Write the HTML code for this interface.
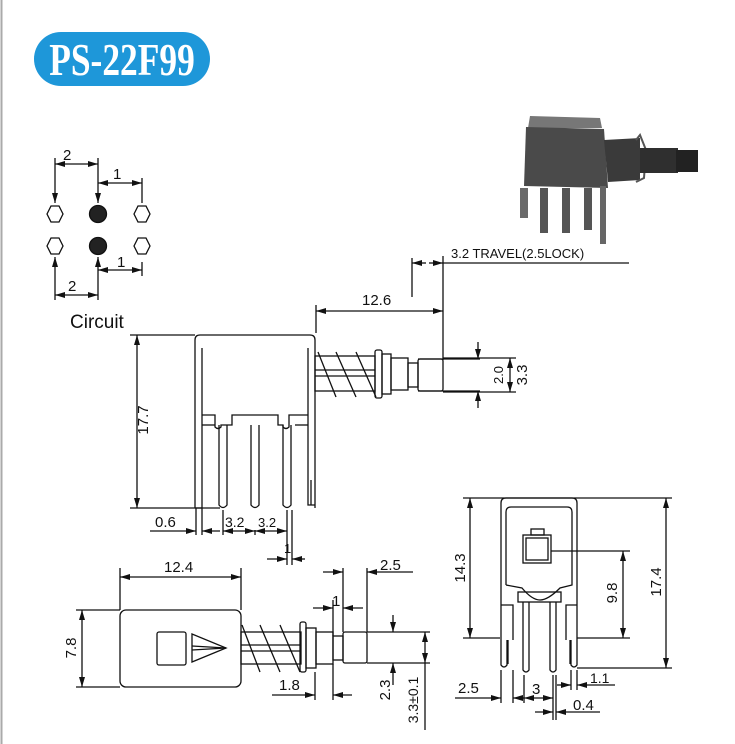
<!DOCTYPE html>
<html><head><meta charset="utf-8"><style>
html,body{margin:0;padding:0;background:#fff;}
svg{display:block;}
text{font-family:"Liberation Sans",sans-serif;fill:#111;}
</style></head><body>
<svg width="735" height="744" viewBox="0 0 735 744" xmlns="http://www.w3.org/2000/svg">
<defs>
<marker id="a" viewBox="0 0 10 6" refX="10" refY="3" markerWidth="10" markerHeight="6" orient="auto-start-reverse" markerUnits="userSpaceOnUse"><path d="M0,0L10,3L0,6z" fill="#111"/></marker>
</defs>
<line x1="1.5" y1="0" x2="1.5" y2="744" stroke="#aaa" stroke-width="2"/>
<rect x="34" y="32" width="176" height="54" rx="27" fill="#1e97d9"/>
<text transform="translate(122,75) scale(0.77,1)" text-anchor="middle" style="font-family:'Liberation Serif',serif;font-weight:bold;font-size:46px;fill:#fff">PS-22F99</text>

<g stroke="#111" stroke-width="1.3" fill="none">
<polygon points="47,214 51,206 59,206 63,214 59,222 51,222"/>
<polygon points="134,214 138,206 146,206 150,214 146,222 138,222"/>
<polygon points="47,246 51,238 59,238 63,246 59,254 51,254"/>
<polygon points="134,246 138,238 146,238 150,246 146,254 138,254"/>
<circle cx="98" cy="214" r="8.5" fill="#222"/>
<circle cx="98" cy="246" r="8.5" fill="#222"/>
<line x1="55" y1="158" x2="55" y2="203" marker-end="url(#a)"/>
<line x1="98" y1="158" x2="98" y2="203" marker-end="url(#a)"/>
<line x1="55" y1="164" x2="98" y2="164" marker-start="url(#a)" marker-end="url(#a)"/>
<line x1="142" y1="178" x2="142" y2="203"/>
<line x1="98" y1="183" x2="142" y2="183" marker-start="url(#a)" marker-end="url(#a)"/>
<line x1="55" y1="300" x2="55" y2="257" marker-end="url(#a)"/>
<line x1="98" y1="300" x2="98" y2="257" marker-end="url(#a)"/>
<line x1="55" y1="295" x2="98" y2="295" marker-start="url(#a)" marker-end="url(#a)"/>
<line x1="142" y1="276" x2="142" y2="262"/>
<line x1="98" y1="270" x2="142" y2="270" marker-start="url(#a)" marker-end="url(#a)"/>

<path d="M195,508 V340 Q195,335 200,335 H310 Q315,335 315,340 V508"/>
<path d="M195,508 H202 V348"/>
<path d="M315,505 H308 V348"/>
<line x1="311" y1="480" x2="311" y2="505"/>
<path d="M202,415 H215 V427 Q218,430 221,427 V425 H232 V415 H278 V425 H283 V427 Q286,430 289,427 V415 H308"/>
<line x1="202" y1="425" x2="215" y2="425"/><line x1="295" y1="425" x2="308" y2="425"/>
<path d="M219,425 V505 Q223,510 227,505 V425"/>
<path d="M251,425 V505 Q255,510 259,505 V425"/>
<path d="M283,425 V505 Q287,510 291,505 V425"/>
<rect x="315" y="356" width="60" height="35"/>
<line x1="315" y1="370" x2="375" y2="370"/><line x1="315" y1="376" x2="375" y2="376"/>
<path d="M318,352 L336,397 M336,352 L356,397 M356,352 L376,397"/>
<rect x="375" y="350" width="7" height="48" rx="2"/>
<rect x="382" y="354" width="9" height="40"/>
<rect x="391" y="358" width="17" height="32"/>
<rect x="408" y="363" width="10" height="24"/>
<rect x="418" y="359" width="25" height="32" rx="2"/>
<line x1="418" y1="359" x2="480" y2="359"/><line x1="418" y1="391" x2="480" y2="391"/>
<line x1="443" y1="358" x2="516" y2="358"/><line x1="443" y1="392" x2="516" y2="392"/>
<line x1="478" y1="342" x2="478" y2="359" marker-end="url(#a)"/>
<line x1="478" y1="408" x2="478" y2="391" marker-end="url(#a)"/>
<line x1="510" y1="358" x2="510" y2="392" marker-start="url(#a)" marker-end="url(#a)"/>
<line x1="130" y1="335" x2="195" y2="335"/><line x1="130" y1="508" x2="220" y2="508"/>
<line x1="137" y1="335" x2="137" y2="508" marker-start="url(#a)" marker-end="url(#a)"/>
<line x1="316" y1="305" x2="316" y2="333"/>
<line x1="443" y1="256" x2="443" y2="360"/>
<line x1="316" y1="311" x2="443" y2="311" marker-start="url(#a)" marker-end="url(#a)"/>
<line x1="412" y1="258" x2="412" y2="297"/>
<line x1="412" y1="263" x2="426" y2="263" marker-start="url(#a)"/>
<line x1="429" y1="263" x2="443" y2="263" marker-end="url(#a)"/>
<line x1="443" y1="263" x2="629" y2="263"/>
<line x1="196" y1="508" x2="196" y2="535"/><line x1="202" y1="508" x2="202" y2="535"/>
<line x1="150" y1="531" x2="196" y2="531" marker-end="url(#a)"/>
<line x1="220" y1="531" x2="202" y2="531" marker-end="url(#a)"/>
<line x1="223" y1="510" x2="223" y2="535"/><line x1="255" y1="530" x2="255" y2="535"/><line x1="287" y1="510" x2="287" y2="565"/><line x1="292" y1="510" x2="292" y2="565"/>
<line x1="223" y1="531" x2="255" y2="531" marker-start="url(#a)" marker-end="url(#a)"/>
<line x1="255" y1="531" x2="287" y2="531" marker-start="url(#a)" marker-end="url(#a)"/>
<line x1="267" y1="559" x2="287" y2="559" marker-end="url(#a)"/>
<line x1="305" y1="559" x2="292" y2="559" marker-end="url(#a)"/>

<rect x="120" y="610" width="121" height="77" rx="6"/>
<rect x="157" y="632" width="29" height="33" rx="2"/>
<path d="M192,634 L226,648 L192,662 Z"/><line x1="192" y1="646" x2="226" y2="648"/><line x1="192" y1="650" x2="226" y2="648"/>
<rect x="241" y="632" width="60" height="32"/>
<line x1="241" y1="645" x2="300" y2="645"/><line x1="241" y1="651" x2="300" y2="651"/>
<path d="M242,625 L260,672 M260,625 L280,672 M280,625 L300,672"/>
<rect x="300" y="622" width="6" height="50" rx="2"/>
<rect x="306" y="628" width="10" height="40"/>
<rect x="316" y="632" width="17" height="32"/>
<rect x="333" y="636" width="10" height="24"/>
<rect x="343" y="632" width="24" height="31" rx="2"/>
<line x1="367" y1="632" x2="430" y2="632"/><line x1="367" y1="663" x2="430" y2="663"/>
<line x1="120" y1="568" x2="120" y2="610"/><line x1="241" y1="568" x2="241" y2="610"/>
<line x1="120" y1="577" x2="241" y2="577" marker-start="url(#a)" marker-end="url(#a)"/>
<line x1="76" y1="610" x2="120" y2="610"/><line x1="76" y1="687" x2="120" y2="687"/>
<line x1="82" y1="610" x2="82" y2="687" marker-start="url(#a)" marker-end="url(#a)"/>
<line x1="343" y1="568" x2="343" y2="632"/><line x1="367" y1="568" x2="367" y2="632"/>
<line x1="323" y1="572" x2="343" y2="572" marker-end="url(#a)"/>
<line x1="413" y1="572" x2="367" y2="572" marker-end="url(#a)"/>
<line x1="333" y1="600" x2="333" y2="636"/>
<line x1="313" y1="608" x2="333" y2="608" marker-end="url(#a)"/>
<line x1="363" y1="608" x2="343" y2="608" marker-end="url(#a)"/>
<line x1="315" y1="672" x2="315" y2="700"/><line x1="333" y1="664" x2="333" y2="700"/>
<line x1="272" y1="695" x2="315" y2="695" marker-end="url(#a)"/>
<line x1="352" y1="695" x2="333" y2="695" marker-end="url(#a)"/>
<line x1="393" y1="615" x2="393" y2="632" marker-end="url(#a)"/>
<line x1="393" y1="685" x2="393" y2="663" marker-end="url(#a)"/>
<line x1="425" y1="632" x2="425" y2="663" marker-start="url(#a)" marker-end="url(#a)"/>
<line x1="425" y1="663" x2="425" y2="730"/>

<path d="M501,640 V503 Q501,498 506,498 H572 Q577,498 577,503 V640"/>
<path d="M506,585 V512 Q506,507 511,507 H567 Q572,507 572,512 V585 L560,588 Q548,600 540,600 Q532,600 522,588 L506,585"/>
<rect x="523" y="535" width="28" height="28"/><rect x="526" y="538" width="22" height="22"/>
<rect x="531" y="529" width="13" height="6"/>
<rect x="518" y="592" width="43" height="10"/>
<path d="M501,605 H513 V640"/><path d="M577,605 H566 V640"/>
<path d="M501,640 V665 Q504,669 507,665 V640"/><path d="M571,640 V665 Q574,669 577,665 V640"/>
<path d="M523,602 V670 Q526,674 529,670 V602"/><path d="M550,602 V670 Q553,674 556,670 V602"/>
<line x1="508" y1="640" x2="508" y2="664"/><line x1="570" y1="640" x2="570" y2="664"/>
<line x1="463" y1="498" x2="672" y2="498"/>
<line x1="463" y1="638" x2="500" y2="638"/><line x1="577" y1="638" x2="630" y2="638"/>
<line x1="470" y1="498" x2="470" y2="638" marker-start="url(#a)" marker-end="url(#a)"/>
<line x1="551" y1="551" x2="630" y2="551"/>
<line x1="623" y1="551" x2="623" y2="638" marker-start="url(#a)" marker-end="url(#a)"/>
<line x1="577" y1="668" x2="672" y2="668"/>
<line x1="666" y1="498" x2="666" y2="668" marker-start="url(#a)" marker-end="url(#a)"/>
<line x1="501" y1="670" x2="501" y2="703"/><line x1="513" y1="670" x2="513" y2="703"/>
<line x1="524" y1="675" x2="524" y2="703"/><line x1="553" y1="675" x2="553" y2="720"/><line x1="556" y1="675" x2="556" y2="720"/>
<line x1="571" y1="670" x2="571" y2="690"/><line x1="577" y1="670" x2="577" y2="690"/>
<line x1="455" y1="698" x2="501" y2="698" marker-end="url(#a)"/>
<line x1="513" y1="698" x2="524" y2="698" marker-start="url(#a)"/>
<line x1="524" y1="698" x2="553" y2="698" marker-start="url(#a)" marker-end="url(#a)"/>
<line x1="557" y1="685" x2="571" y2="685" marker-end="url(#a)"/>
<line x1="615" y1="685" x2="577" y2="685" marker-end="url(#a)"/>
<line x1="535" y1="712" x2="553" y2="712" marker-end="url(#a)"/>
<line x1="600" y1="712" x2="556" y2="712" marker-end="url(#a)"/>
</g>

<g>
<path d="M530,116 L600,118 L602,128 L528,128 Z" fill="#777"/>
<path d="M526,127 L604,129 L608,188 L524,186 Z" fill="#4a4a4a"/>
<path d="M604,140 L640,138 L640,180 L608,182 Z" fill="#3a3a3a"/>
<path d="M636,140 L640,135 L646,150 L644,178 L636,182" fill="none" stroke="#555" stroke-width="2"/>
<rect x="640" y="148" width="38" height="25" fill="#2f2f2f"/>
<rect x="676" y="150" width="22" height="22" fill="#222"/>
<rect x="520" y="188" width="8" height="30" fill="#6a6a6a"/>
<rect x="540" y="188" width="8" height="45" fill="#555"/>
<rect x="562" y="188" width="8" height="45" fill="#555"/>
<rect x="584" y="188" width="8" height="42" fill="#555"/>
<rect x="600" y="186" width="6" height="58" fill="#666"/>
</g>

<g font-size="15">
<text x="63" y="160">2</text>
<text x="113" y="179">1</text>
<text x="117" y="267">1</text>
<text x="68" y="291">2</text>
<text x="70" y="328" font-size="19">Circuit</text>
<text x="451" y="258" font-size="13">3.2 TRAVEL(2.5LOCK)</text>
<text x="362" y="305">12.6</text>
<text transform="translate(148,420) rotate(-90)" text-anchor="middle">17.7</text>
<text transform="translate(503,375) rotate(-90)" text-anchor="middle" font-size="13">2.0</text>
<text transform="translate(527,375) rotate(-90)" text-anchor="middle">3.3</text>
<text x="155" y="527">0.6</text>
<text x="225" y="527" font-size="14">3.2</text>
<text x="258" y="527" font-size="13">3.2</text>
<text x="284" y="553" font-size="13">1</text>
<text x="164" y="572">12.4</text>
<text transform="translate(76,648) rotate(-90)" text-anchor="middle">7.8</text>
<text x="380" y="570">2.5</text>
<text x="332" y="606">1</text>
<text x="279" y="690">1.8</text>
<text transform="translate(390,690) rotate(-90)" text-anchor="middle">2.3</text>
<text transform="translate(418,700) rotate(-90)" text-anchor="middle" font-size="14">3.3±0.1</text>
<text transform="translate(465,568) rotate(-90)" text-anchor="middle">14.3</text>
<text transform="translate(617,593) rotate(-90)" text-anchor="middle">9.8</text>
<text transform="translate(661,582) rotate(-90)" text-anchor="middle">17.4</text>
<text x="458" y="693">2.5</text>
<text x="532" y="694">3</text>
<text x="590" y="683" font-size="14">1.1</text>
<text x="573" y="710">0.4</text>
</g>
</svg>
</body></html>
